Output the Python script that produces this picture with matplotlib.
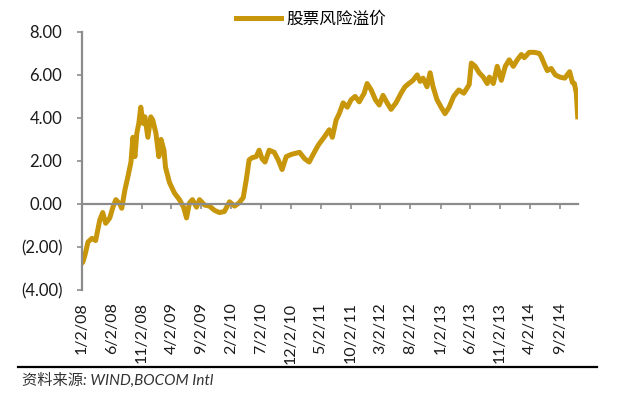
import matplotlib
matplotlib.use("Agg")
import matplotlib.pyplot as plt
import matplotlib.dates as mdates
from matplotlib.ticker import FuncFormatter
from matplotlib.lines import Line2D
import pandas as pd

# 股票风险溢价
dates = [
    "2008-01-02", "2008-01-07", "2008-01-17", "2008-02-02", "2008-02-22", "2008-03-12",
    "2008-04-02", "2008-04-17", "2008-05-02", "2008-05-23", "2008-06-08", "2008-06-23",
    "2008-07-13", "2008-07-23", "2008-08-08", "2008-08-23", "2008-09-08", "2008-09-18",
    "2008-09-28", "2008-10-08", "2008-10-18", "2008-10-28", "2008-11-08", "2008-11-18",
    "2008-12-03", "2008-12-18", "2008-12-28", "2009-01-13", "2009-01-28", "2009-02-08",
    "2009-02-23", "2009-03-03", "2009-03-23", "2009-04-18", "2009-05-13", "2009-06-03",
    "2009-06-18", "2009-07-03", "2009-07-18", "2009-08-08", "2009-08-23", "2009-09-18",
    "2009-10-13", "2009-11-08", "2009-12-03", "2009-12-28", "2010-01-23", "2010-02-18",
    "2010-03-13", "2010-04-03", "2010-04-18", "2010-05-03", "2010-05-18", "2010-06-08",
    "2010-06-23", "2010-07-08", "2010-07-23", "2010-08-13", "2010-09-08", "2010-09-28",
    "2010-10-18", "2010-11-08", "2010-12-03", "2010-12-23", "2011-01-15", "2011-02-10",
    "2011-03-05", "2011-03-25", "2011-04-15", "2011-04-25", "2011-05-20", "2011-06-15",
    "2011-07-01", "2011-07-20", "2011-08-05", "2011-08-25", "2011-09-15", "2011-10-05",
    "2011-10-25", "2011-11-15", "2011-12-10", "2011-12-25", "2012-01-15", "2012-02-05",
    "2012-02-25", "2012-03-15", "2012-04-05", "2012-04-25", "2012-05-20", "2012-06-15",
    "2012-07-05", "2012-07-25", "2012-08-15", "2012-09-05", "2012-09-20", "2012-10-05",
    "2012-10-25", "2012-11-10", "2012-11-25", "2012-12-15", "2013-01-05", "2013-01-25",
    "2013-02-15", "2013-03-10", "2013-04-05", "2013-05-01", "2013-05-28", "2013-06-08",
    "2013-06-28", "2013-07-18", "2013-08-08", "2013-08-28", "2013-09-08", "2013-09-28",
    "2013-10-18", "2013-11-08", "2013-11-28", "2013-12-18", "2014-01-08", "2014-01-28",
    "2014-02-18", "2014-03-05", "2014-03-30", "2014-04-25", "2014-05-20", "2014-05-30",
    "2014-06-15", "2014-06-30", "2014-07-20", "2014-08-10", "2014-09-02", "2014-09-27",
    "2014-10-22", "2014-11-05", "2014-11-15", "2014-11-25", "2014-12-02",
]
premium = [
    -2.75, -2.70, -2.40, -1.77, -1.60, -1.70,
    -0.75, -0.40, -0.90, -0.65, -0.15, 0.20,
    0.00, -0.20, 0.65, 1.25, 1.95, 3.10,
    2.20, 3.30, 3.75, 4.50, 3.75, 4.05,
    3.10, 4.05, 3.90, 3.30, 2.20, 3.00,
    2.50, 1.70, 1.00, 0.50, 0.20, -0.15,
    -0.65, 0.05, 0.20, -0.15, 0.20, -0.05,
    -0.10, -0.30, -0.40, -0.35, 0.10, -0.10,
    0.05, 0.30, 1.10, 2.05, 2.15, 2.20,
    2.50, 2.10, 1.95, 2.50, 2.40, 2.05,
    1.60, 2.20, 2.30, 2.35, 2.40, 2.10,
    1.95, 2.30, 2.65, 2.80, 3.10, 3.45,
    3.10, 3.90, 4.20, 4.70, 4.50, 4.85,
    5.00, 4.75, 5.15, 5.60, 5.30, 4.85,
    4.60, 5.05, 4.70, 4.40, 4.70, 5.15,
    5.45, 5.60, 5.75, 6.00, 5.70, 5.85,
    5.45, 6.10, 5.45, 4.85, 4.50, 4.20,
    4.50, 5.00, 5.30, 5.15, 5.55, 6.55,
    6.40, 6.10, 5.90, 5.60, 5.90, 5.60,
    6.40, 5.75, 6.40, 6.70, 6.40, 6.70,
    6.95, 6.80, 7.05, 7.05, 7.00, 6.85,
    6.50, 6.20, 6.30, 6.00, 5.90, 5.85,
    6.15, 5.65, 5.60, 5.15, 4.05,
]
series_name = "股票风险溢价"
source_text = "资料来源: WIND,BOCOM Intl"

x = pd.to_datetime(dates)
ticks = pd.date_range("2008-01-01", "2014-09-01", freq="5MS") + pd.Timedelta(days=1)

plt.rcParams['font.family'] = ['Lato', 'Noto Sans CJK SC', 'DejaVu Sans']

fig = plt.figure(figsize=(6.3, 3.94), dpi=100)
ax = fig.add_axes([0.130, 0.264, 0.787, 0.655])

gold = '#C8960A'
ax.plot(x, premium, color=gold, lw=3.6, solid_joinstyle='round', label=series_name)

ax.set_ylim(-4, 8)
ax.set_yticks([-4, -2, 0, 2, 4, 6, 8])
ax.yaxis.set_major_formatter(FuncFormatter(
    lambda v, p: f"({abs(v):.2f})" if v < 0 else f"{v:.2f}"))
ax.set_xlim(x[0], x[-1])

axis_gray = '#8C8C8C'
for s in ['top', 'right']:
    ax.spines[s].set_visible(False)
ax.spines['left'].set_color(axis_gray)
ax.spines['left'].set_linewidth(1.6)
ax.spines['bottom'].set_position(('data', 0))
ax.spines['bottom'].set_color(axis_gray)
ax.spines['bottom'].set_linewidth(1.6)

ax.set_xticks(ticks)
ax.tick_params(axis='x', direction='out', length=3.6, width=1.2, color=axis_gray,
               labelbottom=False)
ax.tick_params(axis='y', direction='out', length=3.6, width=1.2, color=axis_gray,
               labelsize=12, labelcolor='#1a1a1a', pad=10.5)

# 日期标签放在图底
def fmt_date(v, p):
    d = mdates.num2date(v)
    return f"{d.month}/{d.day}/{d.strftime('%y')}"

sec = ax.secondary_xaxis(0)
sec.set_xticks(ticks)
sec.xaxis.set_major_formatter(FuncFormatter(fmt_date))
sec.spines['bottom'].set_visible(False)
sec.tick_params(axis='x', length=0, pad=9, labelsize=11.5, labelcolor='#1a1a1a',
                labelrotation=90)

fig.legend(loc='upper center', bbox_to_anchor=(0.494, 1.01), frameon=False,
           handlelength=2.7, handletextpad=0.35,
           prop={'family': ['Noto Sans CJK SC'], 'size': 12})

fig.add_artist(Line2D([0.029, 0.948], [0.068, 0.068], color='black', lw=1.6))
fig.text(0.035, 0.035, source_text, fontsize=11, style='italic', color='#333333',
         va='center', family=['Lato', 'Noto Sans CJK SC', 'DejaVu Sans'])

fig.savefig("out.png", dpi=100)
